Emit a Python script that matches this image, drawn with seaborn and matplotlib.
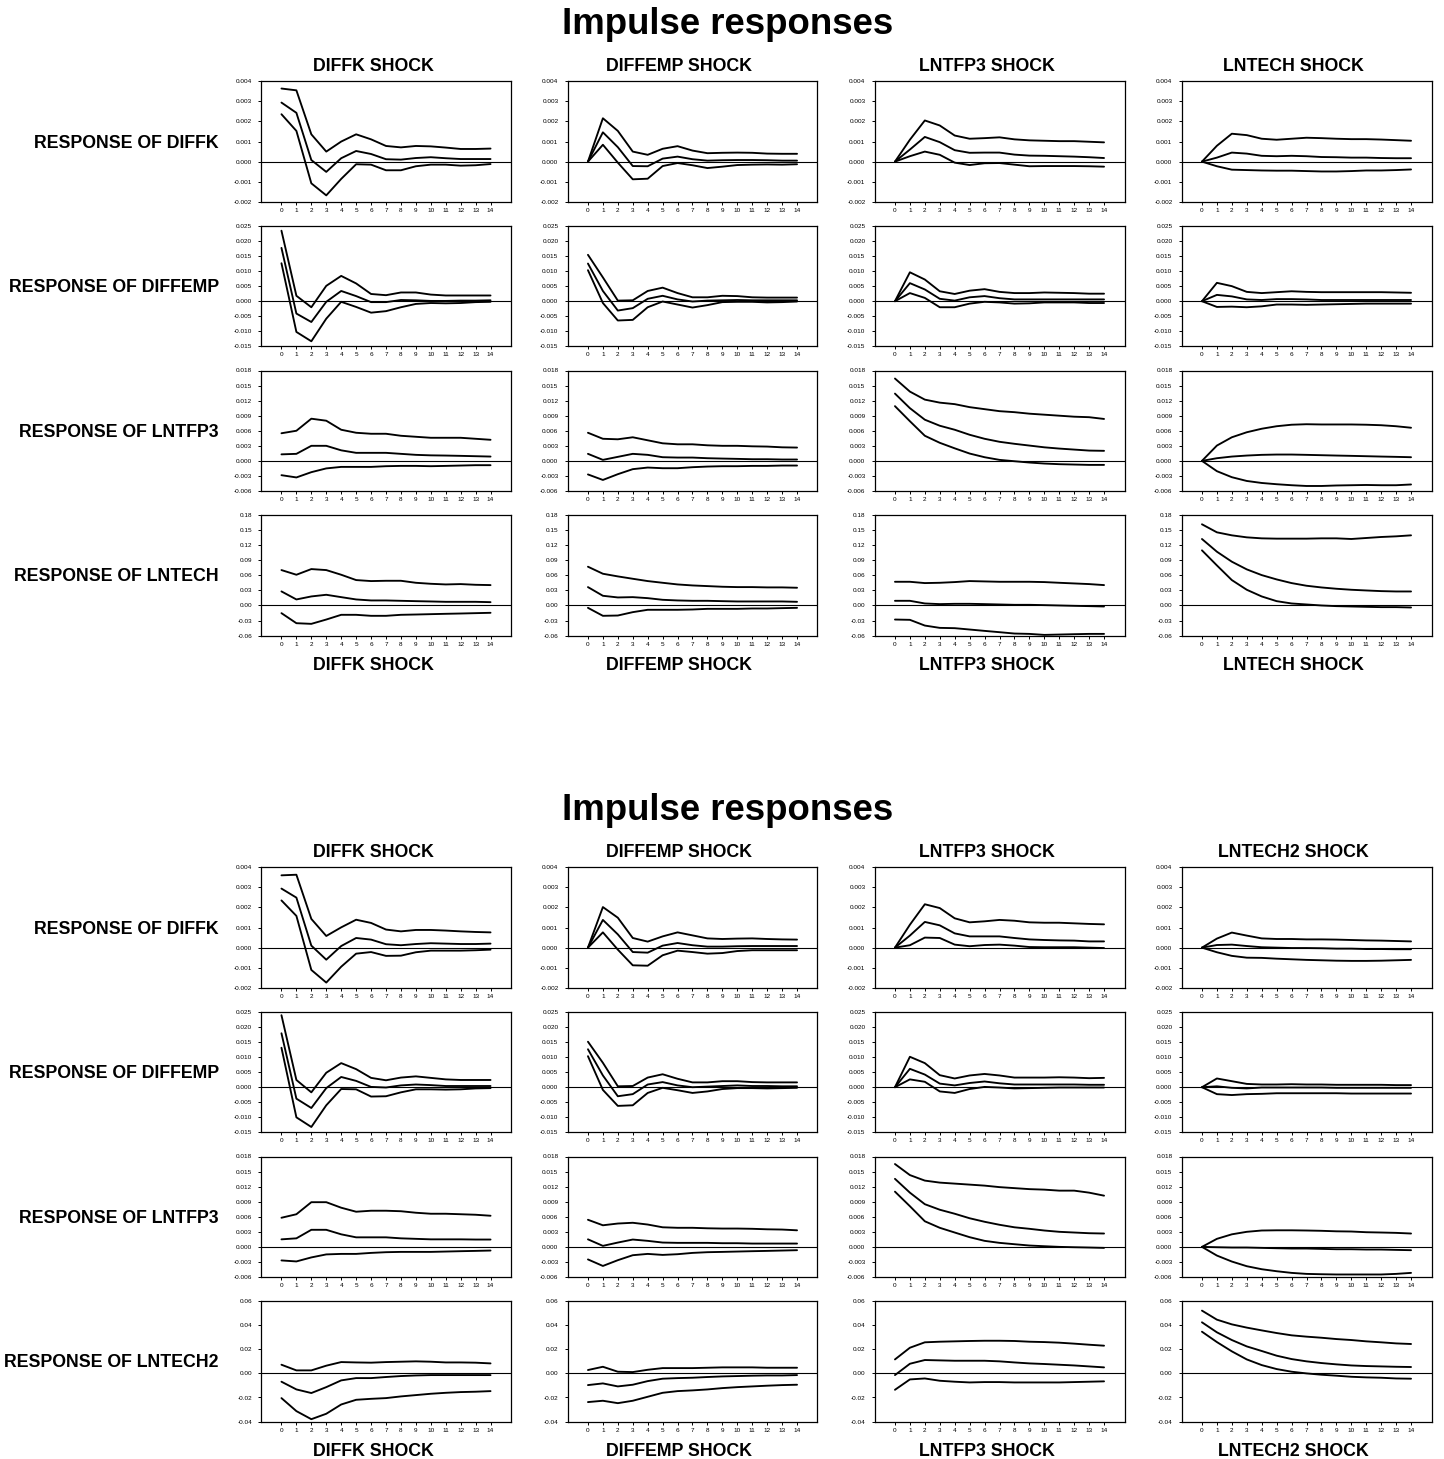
import matplotlib
matplotlib.use("Agg")
import matplotlib.pyplot as plt
import pandas as pd
import seaborn as sns

sns.set_theme(style="ticks")
plt.rcParams["font.family"] = ["Liberation Sans", "DejaVu Sans"]
plt.rcParams["axes.unicode_minus"] = False
plt.rcParams["text.color"] = "black"
plt.rcParams["xtick.color"] = "black"
plt.rcParams["ytick.color"] = "black"

# ---------------------------------------------------------------------------
# Data: impulse responses over 15 periods, each panel holds
# [upper band, point estimate, lower band].
# DIFFK / DIFFEMP / LNTFP3 responses are in units of 0.001,
# LNTECH / LNTECH2 responses are in units of 0.01.
# ---------------------------------------------------------------------------
STEPS = list(range(15))
TITLE = "Impulse responses"
SHOCKS_1 = ["DIFFK", "DIFFEMP", "LNTFP3", "LNTECH"]
SHOCKS_2 = ["DIFFK", "DIFFEMP", "LNTFP3", "LNTECH2"]
RESPONSES_1 = ["DIFFK", "DIFFEMP", "LNTFP3", "LNTECH"]
RESPONSES_2 = ["DIFFK", "DIFFEMP", "LNTFP3", "LNTECH2"]

UNIT = {"DIFFK": 1e-3, "DIFFEMP": 1e-3, "LNTFP3": 1e-3, "LNTECH": 1e-2, "LNTECH2": 1e-2}

TICKS = {
    "DIFFK": [-0.002, -0.001, 0.000, 0.001, 0.002, 0.003, 0.004],
    "DIFFEMP": [-0.015, -0.010, -0.005, 0.000, 0.005, 0.010, 0.015, 0.020, 0.025],
    "LNTFP3": [-0.006, -0.003, 0.000, 0.003, 0.006, 0.009, 0.012, 0.015, 0.018],
    "LNTECH": [-0.06, -0.03, 0.00, 0.03, 0.06, 0.09, 0.12, 0.15, 0.18],
    "LNTECH2": [-0.04, -0.02, 0.00, 0.02, 0.04, 0.06],
}
TICK_FMT = {"DIFFK": "{:.3f}", "DIFFEMP": "{:.3f}", "LNTFP3": "{:.3f}",
            "LNTECH": "{:.2f}", "LNTECH2": "{:.2f}"}

# ----- first system (LNTECH) -----
a_diffk_diffk = [
    [3.64, 3.55, 1.36, 0.50, 1.00, 1.36, 1.11, 0.78, 0.71, 0.78, 0.76, 0.70, 0.63, 0.63, 0.65],
    [2.94, 2.43, 0.08, -0.51, 0.17, 0.53, 0.38, 0.12, 0.10, 0.18, 0.22, 0.17, 0.13, 0.13, 0.13],
    [2.36, 1.53, -1.08, -1.68, -0.86, -0.13, -0.15, -0.43, -0.43, -0.23, -0.15, -0.15, -0.20, -0.18, -0.12],
]
a_diffk_diffemp = [
    [0, 2.16, 1.53, 0.50, 0.34, 0.64, 0.77, 0.55, 0.42, 0.44, 0.45, 0.44, 0.40, 0.39, 0.39],
    [0, 1.46, 0.72, -0.22, -0.23, 0.15, 0.25, 0.12, 0.05, 0.07, 0.08, 0.08, 0.07, 0.05, 0.05],
    [0, 0.84, -0.05, -0.88, -0.85, -0.22, -0.07, -0.18, -0.32, -0.25, -0.17, -0.15, -0.14, -0.15, -0.13],
]
a_diffk_lntfp3 = [
    [0, 1.09, 2.05, 1.80, 1.30, 1.14, 1.17, 1.21, 1.11, 1.06, 1.04, 1.02, 1.02, 0.99, 0.96],
    [0, 0.60, 1.23, 0.97, 0.57, 0.44, 0.45, 0.45, 0.35, 0.30, 0.29, 0.27, 0.25, 0.22, 0.18],
    [0, 0.27, 0.50, 0.34, -0.05, -0.17, -0.08, -0.07, -0.15, -0.23, -0.22, -0.22, -0.22, -0.23, -0.25],
]
a_diffk_lntech = [
    [0, 0.79, 1.39, 1.32, 1.14, 1.09, 1.14, 1.19, 1.17, 1.14, 1.12, 1.12, 1.10, 1.07, 1.04],
    [0, 0.20, 0.45, 0.40, 0.29, 0.27, 0.29, 0.27, 0.23, 0.22, 0.20, 0.20, 0.18, 0.17, 0.17],
    [0, -0.23, -0.40, -0.42, -0.44, -0.45, -0.45, -0.47, -0.49, -0.49, -0.47, -0.44, -0.44, -0.42, -0.39],
]
a_diffemp_diffk = [
    [23.4, 1.8, -2.0, 5.1, 8.4, 5.9, 2.4, 2.0, 2.9, 2.9, 2.2, 1.9, 1.9, 1.9, 1.9],
    [17.7, -4.1, -6.9, -0.2, 3.4, 1.7, -0.3, -0.3, 0.4, 0.3, 0.1, 0.1, 0.2, 0.2, 0.3],
    [12.6, -10.2, -13.3, -5.8, -0.2, -1.9, -3.8, -3.3, -2.0, -0.9, -0.6, -0.7, -0.6, -0.3, -0.2],
]
a_diffemp_diffemp = [
    [15.4, 7.9, 0.2, 0.3, 3.4, 4.5, 2.7, 1.3, 1.3, 1.8, 1.7, 1.3, 1.2, 1.2, 1.2],
    [12.5, 3.4, -3.1, -2.3, 0.8, 1.8, 0.6, -0.1, 0.2, 0.3, 0.4, 0.3, 0.3, 0.3, 0.3],
    [10.3, -0.6, -6.4, -6.2, -2.0, -0.1, -1.1, -2.1, -1.3, -0.3, -0.2, -0.2, -0.4, -0.3, -0.1],
]
a_diffemp_lntfp3 = [
    [0, 9.6, 7.2, 3.3, 2.4, 3.5, 4.0, 3.1, 2.7, 2.7, 2.9, 2.8, 2.7, 2.5, 2.5],
    [0, 6.0, 3.9, 0.8, 0.2, 1.3, 1.7, 1.0, 0.6, 0.6, 0.6, 0.6, 0.6, 0.6, 0.6],
    [0, 2.7, 1.1, -2.0, -2.0, -0.8, -0.2, -0.4, -0.8, -0.7, -0.4, -0.4, -0.4, -0.6, -0.6],
]
a_diffemp_lntech = [
    [0, 6.1, 5.0, 3.1, 2.7, 3.0, 3.3, 3.1, 3.0, 3.0, 3.0, 3.0, 3.0, 2.9, 2.8],
    [0, 2.1, 1.6, 0.6, 0.4, 0.7, 0.7, 0.6, 0.4, 0.4, 0.4, 0.4, 0.4, 0.4, 0.4],
    [0, -1.9, -1.8, -2.0, -1.7, -1.1, -1.1, -1.2, -1.1, -1.0, -0.9, -0.8, -0.8, -0.8, -0.8],
]
a_lntfp3_diffk = [
    [5.5, 6.0, 8.4, 8.0, 6.2, 5.6, 5.4, 5.4, 5.0, 4.8, 4.6, 4.6, 4.6, 4.4, 4.2],
    [1.3, 1.4, 3.0, 3.0, 2.1, 1.6, 1.6, 1.6, 1.4, 1.2, 1.1, 1.06, 1.0, 0.93, 0.86],
    [-2.85, -3.3, -2.25, -1.5, -1.2, -1.2, -1.2, -1.06, -1.0, -1.0, -1.06, -1.0, -0.93, -0.86, -0.86],
]
a_lntfp3_diffemp = [
    [5.6, 4.4, 4.3, 4.7, 4.1, 3.5, 3.3, 3.3, 3.1, 3.0, 3.0, 2.9, 2.85, 2.7, 2.65],
    [1.4, 0.2, 0.8, 1.4, 1.2, 0.73, 0.66, 0.66, 0.53, 0.46, 0.4, 0.33, 0.33, 0.27, 0.27],
    [-2.7, -3.8, -2.65, -1.65, -1.33, -1.46, -1.46, -1.26, -1.13, -1.06, -1.06, -1.0, -1.0, -0.93, -0.93],
]
a_lntfp3_lntfp3 = [
    [16.4, 13.8, 12.2, 11.6, 11.3, 10.7, 10.3, 9.9, 9.7, 9.4, 9.2, 9.0, 8.8, 8.7, 8.35],
    [13.4, 10.5, 8.2, 7.0, 6.2, 5.2, 4.4, 3.8, 3.4, 3.05, 2.7, 2.45, 2.25, 2.05, 2.0],
    [10.9, 7.9, 5.0, 3.6, 2.5, 1.46, 0.73, 0.2, -0.07, -0.33, -0.53, -0.66, -0.73, -0.8, -0.8],
]
a_lntfp3_lntech = [
    [0, 3.05, 4.7, 5.7, 6.4, 6.9, 7.2, 7.3, 7.25, 7.25, 7.25, 7.2, 7.1, 6.9, 6.6],
    [0, 0.53, 0.86, 1.06, 1.2, 1.26, 1.26, 1.2, 1.13, 1.06, 1.0, 0.93, 0.86, 0.8, 0.73],
    [0, -2.05, -3.25, -4.0, -4.4, -4.65, -4.85, -5.0, -5.0, -4.9, -4.85, -4.8, -4.85, -4.85, -4.7],
]
a_lntech_diffk = [
    [7.05, 6.12, 7.25, 7.05, 6.12, 5.06, 4.86, 4.92, 4.92, 4.52, 4.32, 4.19, 4.26, 4.12, 4.06],
    [2.8, 1.2, 1.8, 2.13, 1.66, 1.2, 1.0, 1.0, 0.93, 0.86, 0.8, 0.73, 0.73, 0.73, 0.66],
    [-1.53, -3.53, -3.66, -2.8, -1.86, -1.86, -2.06, -2.06, -1.86, -1.8, -1.73, -1.66, -1.6, -1.53, -1.46],
]
a_lntech_diffemp = [
    [7.72, 6.32, 5.79, 5.32, 4.86, 4.52, 4.19, 3.99, 3.86, 3.73, 3.66, 3.66, 3.6, 3.6, 3.53],
    [3.66, 1.93, 1.6, 1.66, 1.46, 1.13, 1.0, 0.93, 0.93, 0.86, 0.8, 0.8, 0.8, 0.8, 0.73],
    [-0.47, -2.06, -2.0, -1.33, -0.86, -0.86, -0.86, -0.8, -0.67, -0.67, -0.67, -0.6, -0.6, -0.53, -0.47],
]
a_lntech_lntfp3 = [
    [4.72, 4.72, 4.46, 4.52, 4.66, 4.86, 4.79, 4.72, 4.72, 4.72, 4.66, 4.52, 4.39, 4.26, 4.06],
    [0.93, 0.93, 0.4, 0.27, 0.33, 0.33, 0.27, 0.2, 0.13, 0.13, 0.07, 0.0, -0.07, -0.13, -0.2],
    [-2.8, -2.86, -4.0, -4.46, -4.52, -4.79, -5.06, -5.32, -5.59, -5.66, -5.86, -5.79, -5.72, -5.66, -5.66],
]
a_lntech_lntech = [
    [16.17, 14.57, 13.97, 13.57, 13.37, 13.31, 13.31, 13.31, 13.37, 13.37, 13.24, 13.44, 13.64, 13.77, 13.97],
    [13.24, 10.71, 8.72, 7.19, 6.05, 5.19, 4.46, 3.93, 3.59, 3.33, 3.13, 2.99, 2.86, 2.79, 2.79],
    [10.98, 7.98, 5.06, 3.13, 1.8, 0.86, 0.4, 0.2, 0.0, -0.13, -0.2, -0.27, -0.33, -0.33, -0.4],
]

# ----- second system (LNTECH2) -----
b_diffk_diffk = [
    [3.60, 3.63, 1.43, 0.58, 1.01, 1.39, 1.23, 0.90, 0.81, 0.88, 0.88, 0.85, 0.81, 0.78, 0.76],
    [2.94, 2.49, 0.10, -0.60, 0.08, 0.48, 0.40, 0.17, 0.12, 0.18, 0.22, 0.20, 0.18, 0.18, 0.20],
    [2.35, 1.58, -1.11, -1.74, -0.95, -0.30, -0.22, -0.41, -0.40, -0.23, -0.15, -0.15, -0.15, -0.13, -0.10],
]
b_diffk_diffemp = [
    [0, 2.02, 1.49, 0.48, 0.30, 0.56, 0.76, 0.61, 0.46, 0.43, 0.45, 0.46, 0.43, 0.41, 0.40],
    [0, 1.38, 0.66, -0.22, -0.25, 0.10, 0.23, 0.12, 0.05, 0.05, 0.07, 0.08, 0.08, 0.08, 0.08],
    [0, 0.76, -0.10, -0.88, -0.90, -0.38, -0.15, -0.22, -0.30, -0.27, -0.17, -0.13, -0.13, -0.13, -0.13],
]
b_diffk_lntfp3 = [
    [0, 1.14, 2.16, 1.97, 1.46, 1.26, 1.31, 1.38, 1.34, 1.26, 1.24, 1.24, 1.21, 1.18, 1.16],
    [0, 0.60, 1.28, 1.11, 0.71, 0.56, 0.56, 0.56, 0.48, 0.41, 0.38, 0.36, 0.35, 0.31, 0.31],
    [0, 0.12, 0.50, 0.48, 0.15, 0.07, 0.13, 0.15, 0.10, 0.03, 0.02, 0.02, 0.02, 0.00, -0.02],
]
b_diffk_lntech2 = [
    [0, 0.45, 0.75, 0.60, 0.46, 0.43, 0.43, 0.41, 0.41, 0.40, 0.38, 0.36, 0.35, 0.33, 0.31],
    [0, 0.13, 0.15, 0.08, 0.02, 0.00, -0.02, -0.02, -0.03, -0.05, -0.05, -0.07, -0.07, -0.08, -0.08],
    [0, -0.23, -0.41, -0.50, -0.51, -0.55, -0.58, -0.61, -0.63, -0.65, -0.66, -0.66, -0.65, -0.63, -0.61],
]
b_diffemp_diffk = [
    [23.9, 2.4, -1.7, 4.8, 8.0, 6.0, 3.1, 2.3, 3.2, 3.6, 3.1, 2.6, 2.4, 2.4, 2.4],
    [17.9, -3.8, -6.9, -0.3, 3.4, 2.1, 0.1, -0.1, 0.6, 0.9, 0.7, 0.4, 0.4, 0.4, 0.4],
    [13.1, -10.0, -13.2, -6.0, -0.6, -0.7, -3.1, -3.0, -1.7, -0.7, -0.7, -0.8, -0.7, -0.4, -0.3],
]
b_diffemp_diffemp = [
    [15.1, 8.1, 0.3, 0.4, 3.2, 4.3, 2.8, 1.6, 1.6, 2.0, 2.0, 1.7, 1.6, 1.6, 1.6],
    [12.6, 3.9, -3.0, -2.3, 0.9, 1.7, 0.6, 0.0, 0.2, 0.4, 0.6, 0.4, 0.4, 0.3, 0.3],
    [10.3, -0.9, -6.2, -6.0, -1.9, -0.2, -1.0, -1.9, -1.4, -0.6, -0.3, -0.3, -0.4, -0.3, -0.2],
]
b_diffemp_lntfp3 = [
    [0, 10.1, 8.0, 4.0, 2.9, 3.9, 4.4, 3.9, 3.2, 3.2, 3.2, 3.3, 3.2, 3.0, 3.1],
    [0, 6.1, 4.2, 1.2, 0.6, 1.4, 1.9, 1.3, 0.9, 0.9, 0.9, 0.9, 0.9, 0.8, 0.8],
    [0, 2.6, 1.8, -1.4, -1.9, -0.6, 0.1, -0.1, -0.4, -0.3, -0.2, -0.1, -0.1, -0.1, -0.1],
]
b_diffemp_lntech2 = [
    [0, 2.9, 2.0, 1.1, 0.9, 0.9, 1.0, 0.9, 0.9, 0.8, 0.8, 0.8, 0.8, 0.7, 0.7],
    [0, 0.3, -0.2, -0.4, -0.1, -0.1, -0.1, -0.1, -0.1, -0.2, -0.2, -0.2, -0.2, -0.2, -0.2],
    [0, -2.3, -2.6, -2.3, -2.2, -2.0, -2.0, -2.0, -2.0, -2.0, -2.1, -2.1, -2.1, -2.1, -2.1],
]
b_lntfp3_diffk = [
    [5.8, 6.5, 8.9, 8.9, 7.8, 7.0, 7.2, 7.2, 7.1, 6.8, 6.6, 6.6, 6.5, 6.4, 6.2],
    [1.5, 1.7, 3.4, 3.4, 2.5, 1.9, 1.9, 1.9, 1.7, 1.6, 1.5, 1.5, 1.5, 1.46, 1.46],
    [-2.7, -2.9, -2.1, -1.5, -1.4, -1.4, -1.2, -1.06, -1.0, -1.0, -1.0, -0.93, -0.86, -0.8, -0.73],
]
b_lntfp3_diffemp = [
    [5.4, 4.3, 4.65, 4.8, 4.45, 3.9, 3.8, 3.8, 3.7, 3.65, 3.65, 3.6, 3.5, 3.45, 3.3],
    [1.5, 0.2, 0.86, 1.46, 1.2, 0.86, 0.8, 0.8, 0.8, 0.73, 0.73, 0.66, 0.66, 0.66, 0.66],
    [-2.5, -3.8, -2.65, -1.66, -1.4, -1.6, -1.46, -1.2, -1.06, -1.0, -0.93, -0.86, -0.8, -0.73, -0.66],
]
b_lntfp3_lntfp3 = [
    [16.5, 14.3, 13.2, 12.8, 12.6, 12.4, 12.2, 11.9, 11.7, 11.5, 11.4, 11.2, 11.2, 10.8, 10.2],
    [13.55, 10.8, 8.5, 7.4, 6.6, 5.7, 5.0, 4.4, 3.9, 3.6, 3.26, 3.0, 2.86, 2.72, 2.66],
    [11.0, 8.1, 5.1, 3.8, 2.86, 1.93, 1.2, 0.8, 0.53, 0.27, 0.13, 0.0, -0.07, -0.13, -0.2],
]
b_lntfp3_lntech2 = [
    [0, 1.6, 2.5, 3.0, 3.26, 3.3, 3.3, 3.26, 3.2, 3.1, 3.06, 2.92, 2.86, 2.79, 2.66],
    [0, -0.07, -0.13, -0.13, -0.2, -0.27, -0.33, -0.33, -0.4, -0.47, -0.47, -0.53, -0.53, -0.6, -0.66],
    [0, -1.73, -2.92, -3.85, -4.45, -4.85, -5.18, -5.38, -5.45, -5.5, -5.5, -5.5, -5.5, -5.38, -5.18],
]
b_lntech2_diffk = [
    [0.72, 0.25, 0.25, 0.64, 0.94, 0.91, 0.89, 0.94, 0.97, 1.0, 0.97, 0.91, 0.91, 0.89, 0.83],
    [-0.69, -1.33, -1.63, -1.14, -0.58, -0.39, -0.39, -0.3, -0.22, -0.17, -0.14, -0.14, -0.14, -0.14, -0.14],
    [-2.05, -3.13, -3.8, -3.35, -2.58, -2.19, -2.11, -2.05, -1.91, -1.8, -1.69, -1.61, -1.55, -1.52, -1.47],
]
b_lntech2_diffemp = [
    [0.28, 0.55, 0.14, 0.11, 0.3, 0.44, 0.44, 0.44, 0.47, 0.5, 0.5, 0.5, 0.47, 0.47, 0.47],
    [-0.97, -0.83, -1.08, -0.94, -0.64, -0.44, -0.39, -0.36, -0.3, -0.25, -0.22, -0.19, -0.17, -0.17, -0.14],
    [-2.38, -2.27, -2.47, -2.27, -1.94, -1.61, -1.47, -1.41, -1.33, -1.22, -1.14, -1.08, -1.02, -0.97, -0.94],
]
b_lntech2_lntfp3 = [
    [1.16, 2.13, 2.58, 2.63, 2.66, 2.69, 2.71, 2.71, 2.69, 2.63, 2.6, 2.55, 2.47, 2.38, 2.3],
    [-0.14, 0.8, 1.11, 1.08, 1.05, 1.05, 1.05, 1.0, 0.91, 0.83, 0.78, 0.72, 0.66, 0.58, 0.5],
    [-1.36, -0.5, -0.42, -0.61, -0.69, -0.75, -0.72, -0.72, -0.75, -0.75, -0.75, -0.75, -0.72, -0.69, -0.66],
]
b_lntech2_lntech2 = [
    [5.21, 4.46, 4.07, 3.8, 3.57, 3.35, 3.16, 3.05, 2.96, 2.85, 2.77, 2.66, 2.58, 2.49, 2.44],
    [4.24, 3.41, 2.77, 2.24, 1.86, 1.47, 1.19, 1.0, 0.86, 0.75, 0.66, 0.61, 0.58, 0.55, 0.53],
    [3.46, 2.6, 1.83, 1.16, 0.69, 0.36, 0.14, 0.0, -0.11, -0.19, -0.28, -0.33, -0.36, -0.42, -0.44],
]

GRID_1 = [
    [a_diffk_diffk, a_diffk_diffemp, a_diffk_lntfp3, a_diffk_lntech],
    [a_diffemp_diffk, a_diffemp_diffemp, a_diffemp_lntfp3, a_diffemp_lntech],
    [a_lntfp3_diffk, a_lntfp3_diffemp, a_lntfp3_lntfp3, a_lntfp3_lntech],
    [a_lntech_diffk, a_lntech_diffemp, a_lntech_lntfp3, a_lntech_lntech],
]
GRID_2 = [
    [b_diffk_diffk, b_diffk_diffemp, b_diffk_lntfp3, b_diffk_lntech2],
    [b_diffemp_diffk, b_diffemp_diffemp, b_diffemp_lntfp3, b_diffemp_lntech2],
    [b_lntfp3_diffk, b_lntfp3_diffemp, b_lntfp3_lntfp3, b_lntfp3_lntech2],
    [b_lntech2_diffk, b_lntech2_diffemp, b_lntech2_lntfp3, b_lntech2_lntech2],
]

# ---------------------------------------------------------------------------
# Layout (pixel geometry of a 1444 x 1459 canvas)
# ---------------------------------------------------------------------------
W, H = 1444, 1459
fig = plt.figure(figsize=(W / 100, H / 100), dpi=100)
fig.patch.set_facecolor("white")

COL_LEFT = [261, 567.5, 874.5, 1181.5]
PANEL_W = 250
PANEL_H = 120.5
ROW_STEP = 144.6
BLOCK_TOP = [81.3, 867.3]
BLOCK_SHIFT = [0, 786]

BANDS = ["upper", "estimate", "lower"]


def px_axes(left, top, width, height):
    return fig.add_axes([left / W, 1 - (top + height) / H, width / W, height / H])


def draw_panel(ax, lines, response):
    unit = UNIT[response]
    frame = pd.DataFrame({
        "step": STEPS * 3,
        "value": [v * unit for line in lines for v in line],
        "band": [b for b in BANDS for _ in STEPS],
    })
    sns.lineplot(data=frame, x="step", y="value", units="band", estimator=None,
                 color="black", linewidth=1.35, ax=ax, legend=False)
    ax.axhline(0, color="black", linewidth=0.8, zorder=1)
    ticks = TICKS[response]
    ax.set_ylim(ticks[0], ticks[-1])
    ax.set_yticks(ticks)
    ax.set_yticklabels([TICK_FMT[response].format(t) for t in ticks])
    ax.set_xlim(-1.37, 15.37)
    ax.set_xticks(STEPS)
    ax.set_xticklabels([str(s) for s in STEPS])
    ax.set_xlabel("")
    ax.set_ylabel("")
    ax.tick_params(axis="both", direction="out", length=2.3, width=0.7,
                   labelsize=4.6, colors="black")
    ax.tick_params(axis="y", pad=4.2)
    ax.tick_params(axis="x", pad=2.0)
    for side in ["top", "right", "bottom", "left"]:
        ax.spines[side].set_visible(True)
        ax.spines[side].set_color("black")
        ax.spines[side].set_linewidth(0.9)
    ax.set_facecolor("white")


for block, (grid, shocks, responses) in enumerate(
        [(GRID_1, SHOCKS_1, RESPONSES_1), (GRID_2, SHOCKS_2, RESPONSES_2)]):
    shift = BLOCK_SHIFT[block]
    top0 = BLOCK_TOP[block]
    fig.text(728 / W, 1 - (25 + shift) / H, TITLE, ha="center", va="center",
             fontsize=26.4, fontweight="bold", color="black")
    for c, shock in enumerate(shocks):
        cx = (COL_LEFT[c] + 112) / W
        fig.text(cx, 1 - (66.5 + shift) / H, f"{shock} SHOCK", ha="center",
                 va="center", fontsize=12.8, fontweight="bold", color="black")
        fig.text(cx, 1 - (665.5 + shift) / H, f"{shock} SHOCK", ha="center",
                 va="center", fontsize=12.8, fontweight="bold", color="black")
    for r, response in enumerate(responses):
        top = top0 + r * ROW_STEP
        fig.text(219 / W, 1 - (top + PANEL_H / 2 + 1.5) / H, f"RESPONSE OF {response}",
                 ha="right", va="center", fontsize=12.8, fontweight="bold",
                 color="black")
        for c in range(4):
            ax = px_axes(COL_LEFT[c], top, PANEL_W, PANEL_H)
            draw_panel(ax, grid[r][c], response)

fig.savefig("out.png", dpi=100, facecolor="white")
